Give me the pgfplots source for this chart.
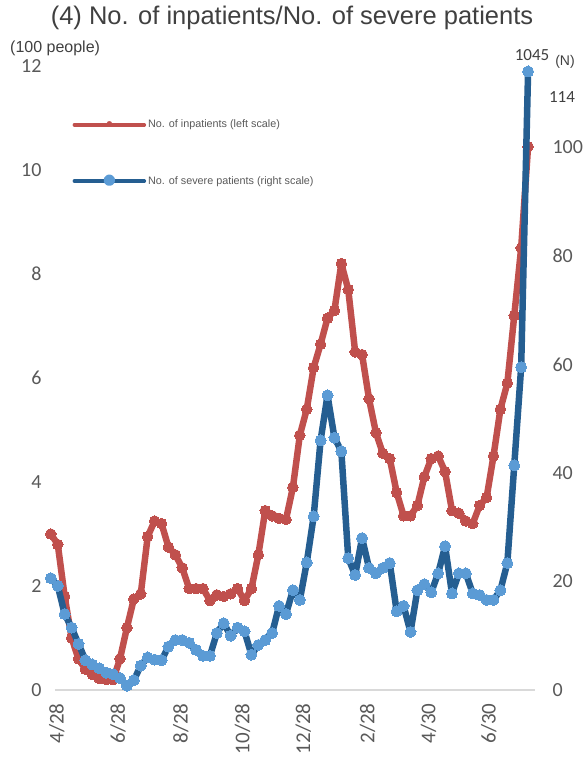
\documentclass[border=0pt]{standalone}
\usepackage{pgfplots}
\pgfplotsset{compat=1.18}
\usepackage{pgfplotstable}
\usepackage{fontspec}
\setmainfont{Liberation Sans}
\newfontfamily\carlito{Carlito}

\definecolor{redC}{RGB}{192,80,77}
\definecolor{blueLine}{RGB}{37,94,145}
\definecolor{blueMark}{RGB}{91,155,213}
\definecolor{tickgray}{RGB}{89,89,89}
\definecolor{titlegray}{RGB}{64,64,64}
\definecolor{axisgray}{RGB}{217,217,217}

% weekly values: inpatients (100 people, left), severe (N, right)
\pgfplotstableread{
i inpat severe
0 3.00 20.6
1 2.80 19.2
2 1.80 14.0
3 1.00 11.5
4 0.60 8.5
5 0.40 5.5
6 0.30 4.7
7 0.22 4.0
8 0.20 3.2
9 0.20 2.9
10 0.60 2.2
11 1.20 0.8
12 1.75 1.8
13 1.85 4.5
14 2.95 6.0
15 3.25 5.6
16 3.20 5.5
17 2.75 8.0
18 2.60 9.2
19 2.35 9.2
20 1.95 8.7
21 1.95 7.4
22 1.95 6.3
23 1.72 6.3
24 1.83 10.5
25 1.80 12.3
26 1.85 10.0
27 1.95 11.5
28 1.72 10.8
29 1.95 6.5
30 2.60 8.3
31 3.45 9.2
32 3.35 10.5
33 3.30 15.5
34 3.28 14.0
35 3.90 18.4
36 4.90 16.6
37 5.40 23.5
38 6.20 32.0
39 6.65 46.0
40 7.15 54.3
41 7.30 46.5
42 8.20 44.0
43 7.70 24.3
44 6.50 21.2
45 6.45 28.0
46 5.60 22.5
47 4.95 21.5
48 4.55 22.5
49 4.45 23.4
50 3.80 14.5
51 3.35 15.5
52 3.35 10.7
53 3.55 18.4
54 4.10 19.5
55 4.45 18.0
56 4.50 21.5
57 4.20 26.5
58 3.45 17.8
59 3.40 21.5
60 3.25 21.5
61 3.20 17.8
62 3.55 17.5
63 3.70 16.6
64 4.50 16.6
65 5.40 18.4
66 5.90 23.4
67 7.20 41.4
68 8.50 59.5
69 10.45 114
}\datatable

\pgfplotsset{
  base/.style={
    scale only axis, width=480pt, height=624pt,
    xmin=0.6, xmax=70, ymin=0,
    clip=false,
    major tick length=0pt,
    tick style={draw=none},
    tick label style={font=\carlito\fontsize{20}{24}\selectfont, text=tickgray},
    /pgf/number format/assume math mode=true,
  }
}

\begin{document}
\begin{tikzpicture}
\begin{axis}[base, name=ax1,
    ymax=12, ytick={0,2,...,12},
    axis x line=bottom, axis y line=left,
    y axis line style={draw=none},
    x axis line style={draw=axisgray, line width=2.5pt, -},
    xtick={0.87,9.7,18.8,27.7,36.5,45.8,54.6,63.3},
    xticklabels={4/28,6/28,8/28,10/28,12/28,2/28,4/30,6/30},
    x tick label style={rotate=90, anchor=east, xshift=-10pt, font=\carlito\fontsize{21}{24}\selectfont},
    y tick label style={xshift=-10pt},
  ]
  \addplot[redC, line width=6.5pt, line join=round, line cap=round, mark=*, mark size=5.3pt,
    mark options={fill=redC, draw=redC, line width=0pt}] table[x=i, y=inpat] {\datatable};
\end{axis}
\begin{axis}[base,
    ymax=115, ytick={0,20,...,100},
    axis x line=none, axis y line=right,
    y axis line style={draw=none},
    y tick label style={xshift=14pt},
    legend style={at={(0.03,0.92)}, anchor=north west, draw=none, fill=none,
      font=\fontsize{10.8}{13}\selectfont, text=tickgray, row sep=43pt},
    legend cell align=left,
  ]
  \addlegendimage{legend image code/.code={
      \draw[redC, line width=3.5pt, line cap=round] (0pt,0pt) -- (70pt,0pt);
      \fill[redC] (35pt,1pt) circle (2.5pt);}}
  \addlegendentry{No. of inpatients (left scale)}
  \addplot[blueLine, line width=6.5pt, line join=round, line cap=round, mark=*, mark size=5.5pt,
    mark options={fill=blueMark, draw=blueMark, line width=0pt},
    legend image code/.code={
      \draw[blueLine, line width=3.5pt, line cap=round] (0pt,0pt) -- (70pt,0pt);
      \fill[blueMark] (35pt,1pt) circle (2.5pt);}]
    table[x=i, y=severe] {\datatable};
  \addlegendentry{No. of severe patients (right scale)}
\end{axis}
\node[text=titlegray, font=\fontsize{25.5}{30}\selectfont] at ([xshift=237pt,yshift=48pt]ax1.north west) {(4) No. of inpatients/No. of severe patients};
\node[anchor=west, text=titlegray, font=\fontsize{16}{18}\selectfont, inner sep=0pt] at ([xshift=-45pt,yshift=18pt]ax1.north west) {(100 people)};
\node[text=titlegray, font=\carlito\fontsize{17}{19}\selectfont] at ([xshift=477pt,yshift=11pt]ax1.north west) {1045};
\node[text=titlegray, font=\fontsize{14}{16}\selectfont] at ([xshift=510pt,yshift=4pt]ax1.north west) {(N)};
\node[text=titlegray, font=\carlito\fontsize{17}{19}\selectfont] at ([xshift=507pt,yshift=-31pt]ax1.north west) {114};
\pgfresetboundingbox
\path[use as bounding box] ([xshift=-55pt,yshift=-74pt]ax1.south west) rectangle ([xshift=48pt,yshift=66pt]ax1.north east);
\end{tikzpicture}
\end{document}
